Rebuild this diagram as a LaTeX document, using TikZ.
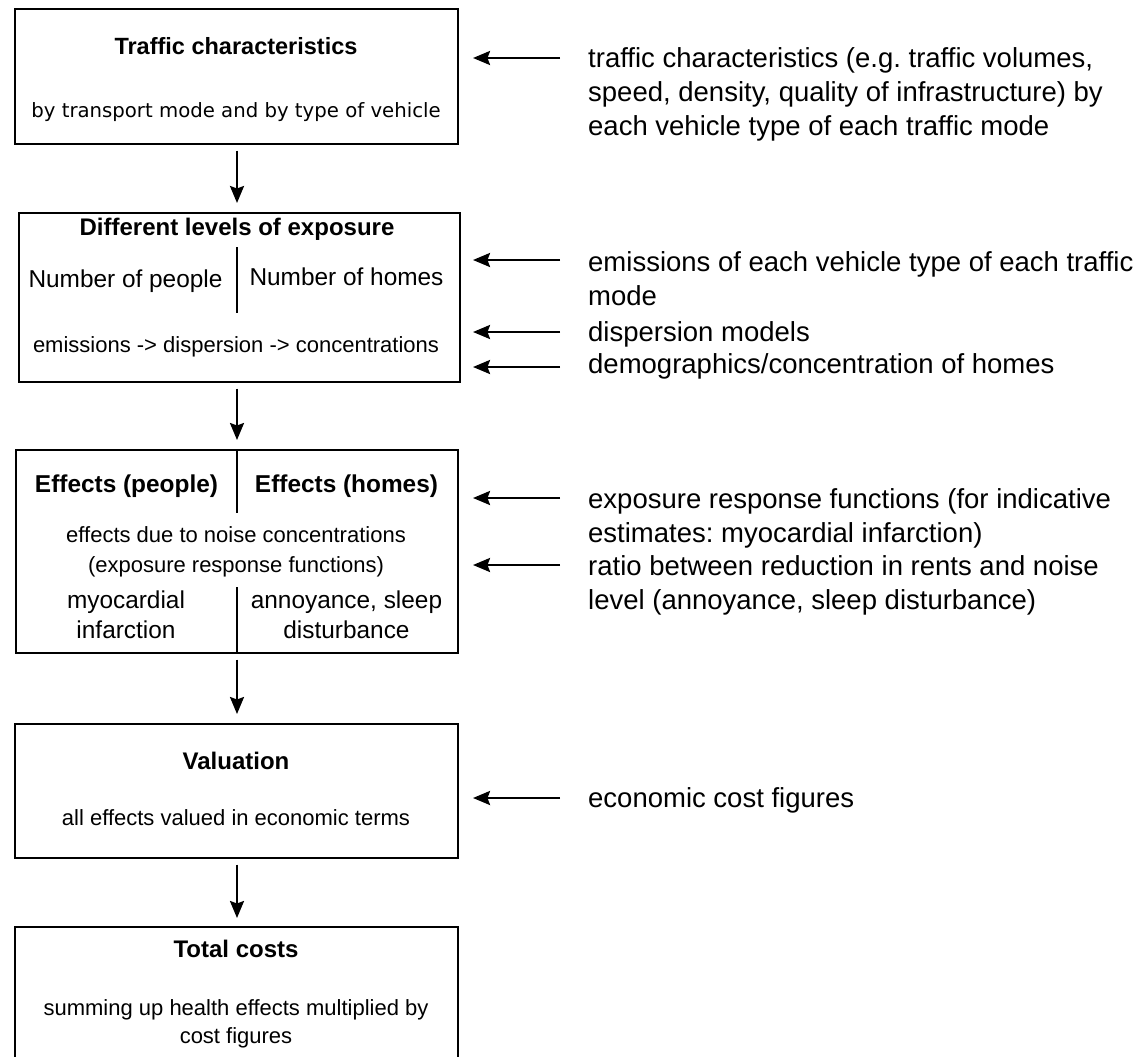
\documentclass[tikz,border=0pt]{standalone}
\usepackage{fontspec}
\setmainfont{Liberation Sans}
\newfontfamily\pixfont{DejaVu Sans}
\usetikzlibrary{arrows.meta}
\newcommand{\ctrlines}[2]{\parbox[t]{#1}{\centering #2}}
\newcommand{\leftlines}[1]{\parbox[t]{600pt}{\raggedright\frenchspacing #1}}
\begin{document}
\frenchspacing
\begin{tikzpicture}[x=1pt,y=-1pt,
  box/.style={draw, line width=1.6pt, inner sep=0pt, anchor=north west},
  arr/.style={line width=2.4pt, -{Stealth[length=17pt,width=14pt,inset=2.5pt]}},
  divider/.style={line width=1.8pt},
  txt/.style={inner sep=0pt, anchor=base},
  title/.style={txt, font=\bfseries\fontsize{24}{29}\selectfont},
  big/.style={txt, font=\fontsize{24.4}{30}\selectfont},
  small/.style={txt, font=\fontsize{22}{30}\selectfont},
  rtxt/.style={inner sep=0pt, anchor=base west, font=\fontsize{27.5}{34}\selectfont\frenchspacing}
]
\useasboundingbox (0,0) rectangle (1148,1057);
\fill[white] (0,0) rectangle (1148,1057);
\clip (0,0) rectangle (1148,1057);

% boxes
\node[box, minimum width=443pt, minimum height=135pt] (b1) at (14,8) {};
\node[box, minimum width=441pt, minimum height=169pt] (b2) at (18,212) {};
\node[box, minimum width=442pt, minimum height=203pt] (b3) at (15,449) {};
\node[box, minimum width=443pt, minimum height=134pt] (b4) at (14,723) {};
\node[box, minimum width=443pt, minimum height=200pt] (b5) at (14,926) {};

% box 1
\node[title, font=\bfseries\fontsize{23.5}{28}\selectfont] (t1) at (236,55) {Traffic characteristics};
\node[txt, font=\pixfont\fontsize{19.7}{24}\selectfont] (t1b) at (236,117) {by transport mode and by type of vehicle};

% box 2
\node[title] (t2) at (237,235) {Different levels of exposure};
\node[big] (t2p) at (125.5,287) {Number of people};
\node[big] (t2h) at (346.5,285) {Number of homes};
\node[small] (t2e) at (236,352) {emissions -> dispersion -> concentrations};
\draw[divider] (237,247) -- (237,313);

% box 3
\node[title, font=\bfseries\fontsize{24.4}{29}\selectfont] (t3p) at (126.5,492) {Effects (people)};
\node[title, font=\bfseries\fontsize{24.4}{29}\selectfont] (t3h) at (346.5,492) {Effects (homes)};
\node[small] (t3e) at (236,542) {\ctrlines{440pt}{effects due to noise concentrations\\(exposure response functions)}};
\node[big] (t3m) at (126,608) {\ctrlines{215pt}{myocardial\\infarction}};
\node[big] (t3a) at (346.5,608) {\ctrlines{215pt}{annoyance, sleep\\disturbance}};
\draw[divider] (237,449) -- (237,513);
\draw[divider] (237,587) -- (237,652);

% box 4
\node[title] (t4) at (236,769) {Valuation};
\node[small] (t4b) at (236,825) {all effects valued in economic terms};

% box 5
\node[title] (t5) at (236,957) {Total costs};
\node[small, font=\fontsize{22}{28}\selectfont] (t5b) at (236,1015) {\ctrlines{440pt}{summing up health effects multiplied by\\cost figures}};

% vertical arrows
\coordinate (ax) at (237,0);
\draw[arr, shorten <=6pt, shorten >=9pt] (b1.south -| ax) -- (b2.north -| ax);
\draw[arr, shorten <=6pt, shorten >=9pt] (b2.south -| ax) -- (b3.north -| ax);
\draw[arr, shorten <=6pt, shorten >=9pt] (b3.south -| ax) -- (b4.north -| ax);
\draw[arr, shorten <=6pt, shorten >=8pt] (b4.south -| ax) -- (b5.north -| ax);

% right texts
\node[rtxt] (r1t) at (588,67) {\leftlines{traffic characteristics (e.g. traffic volumes,\\speed, density, quality of infrastructure) by\\each vehicle type of each traffic mode}};
\node[rtxt] (r2t) at (588,271) {\leftlines{emissions of each vehicle type of each traffic\\mode}};
\node[rtxt] (r3t) at (588,341) {dispersion models};
\node[rtxt] (r4t) at (588,373) {demographics/concentration of homes};
\node[rtxt] (r5t) at (588,508) {\leftlines{exposure response functions (for indicative\\estimates: myocardial infarction)}};
\node[rtxt] (r6t) at (588,575) {\leftlines{ratio between reduction in rents and noise\\level (annoyance, sleep disturbance)}};
\node[rtxt] (r7t) at (588,807) {economic cost figures};

% right arrows
\coordinate (tx) at (473,0);
\coordinate (r1) at (560,58);
\coordinate (r2) at (560,260);
\coordinate (r3) at (560,332);
\coordinate (r4) at (560,367);
\coordinate (r5) at (560,498);
\coordinate (r6) at (560,565);
\coordinate (r7) at (560,798);
\foreach \r in {r1,r2,r3,r4,r5,r6,r7} {
  \draw[arr] (\r) -- (\r -| tx);
}
\end{tikzpicture}
\end{document}
